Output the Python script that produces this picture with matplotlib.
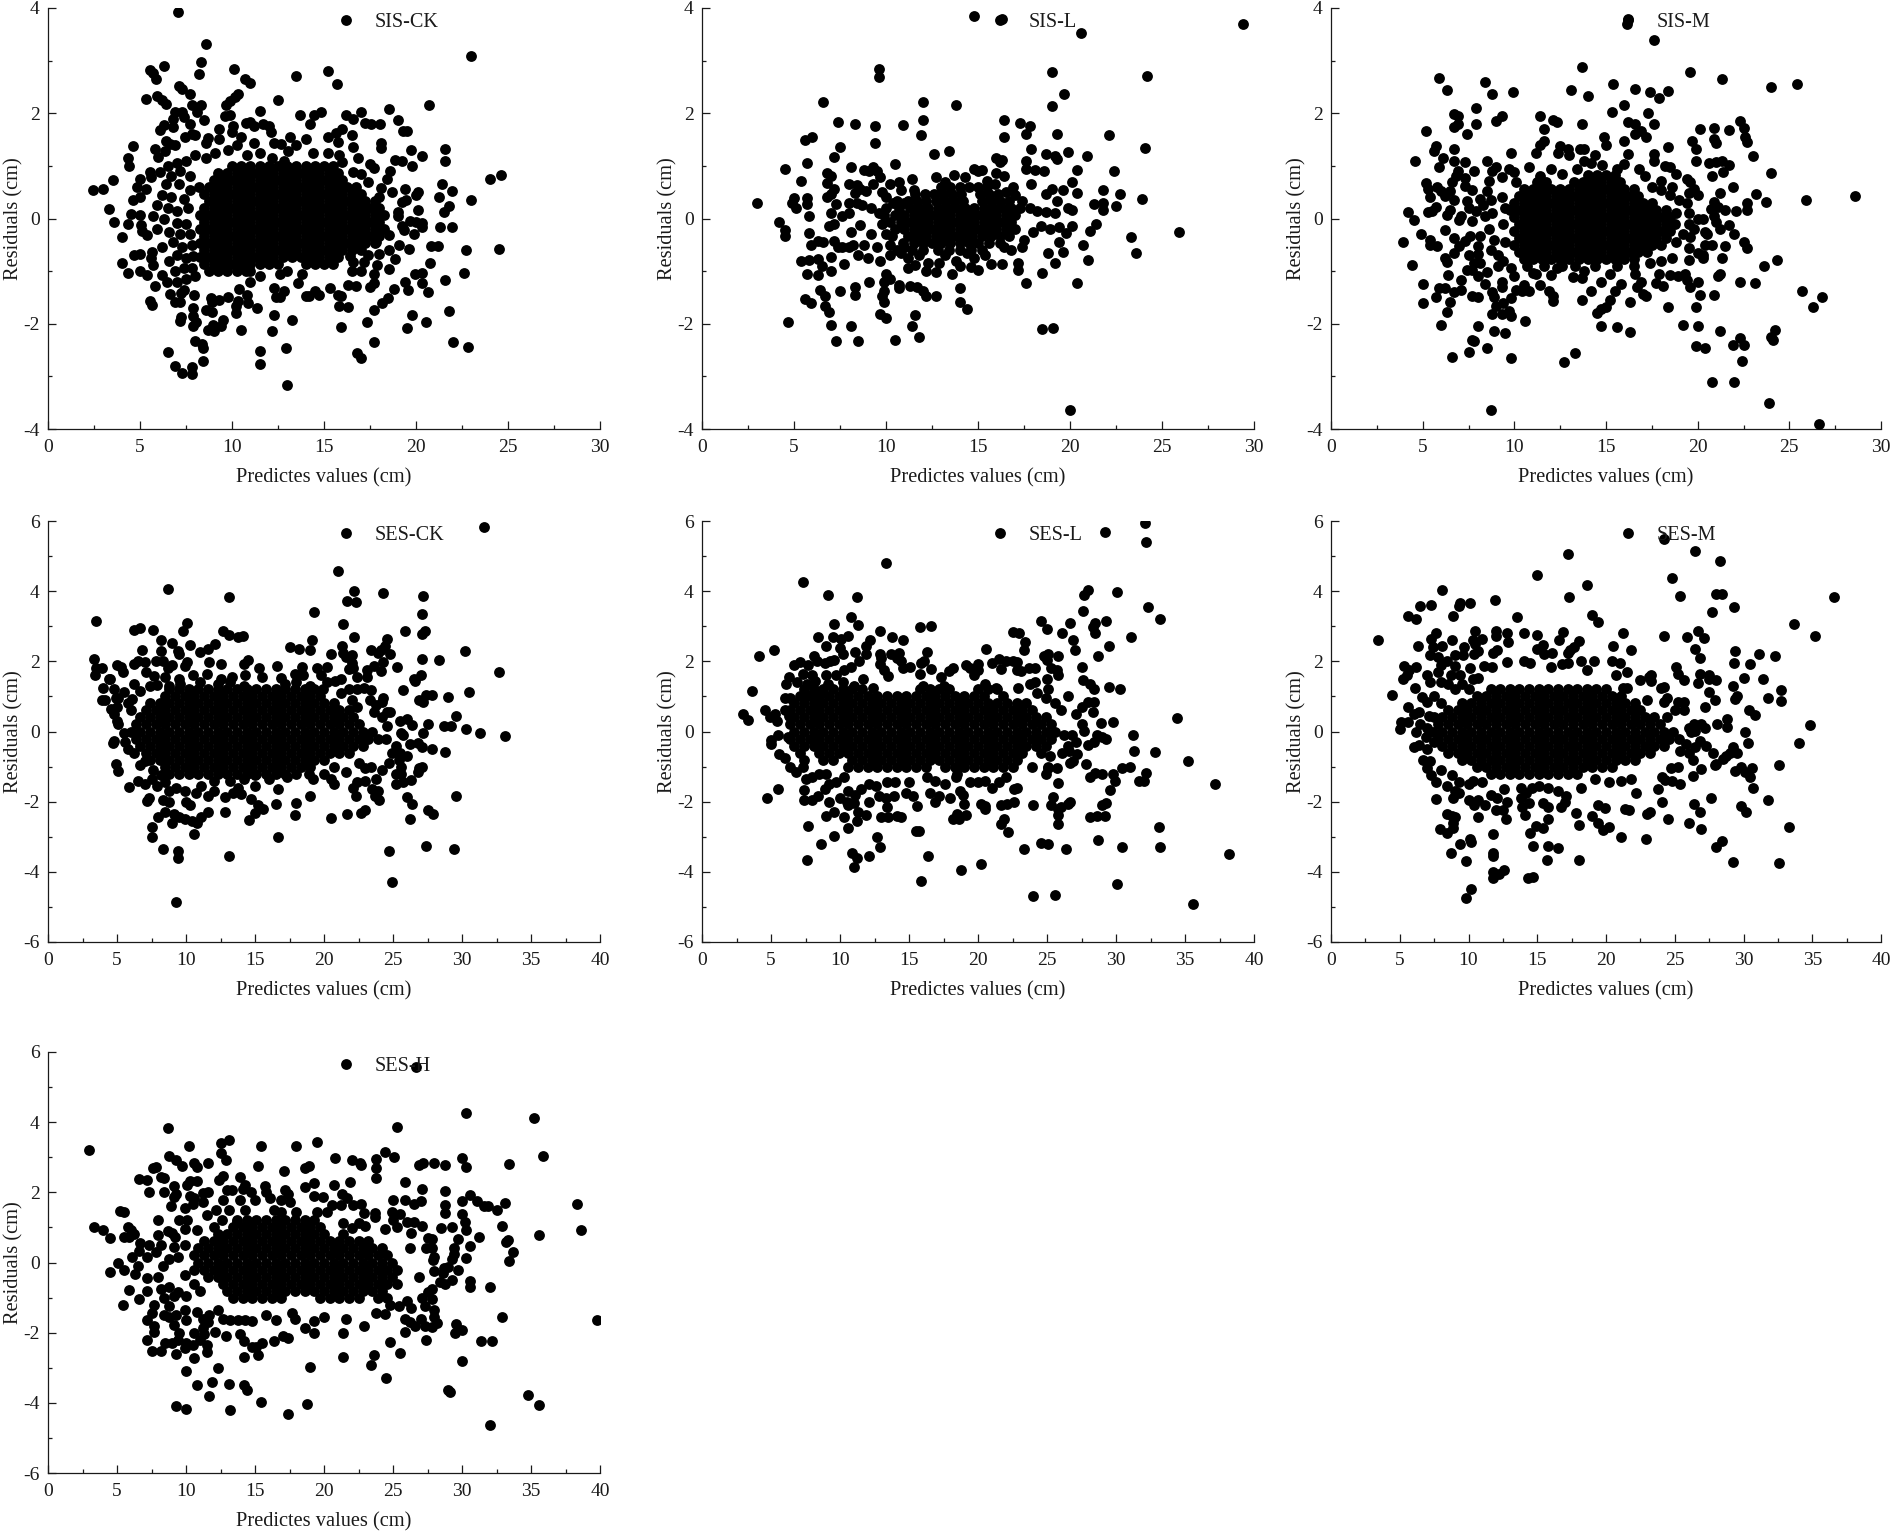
import numpy as np
import matplotlib
matplotlib.use('Agg')
import matplotlib.pyplot as plt
from matplotlib.ticker import MultipleLocator

plt.rcParams['font.family'] = ['Liberation Serif', 'DejaVu Serif']
plt.rcParams['axes.unicode_minus'] = False

# =============================================================================
# Values. *_pts are the dots that can be told apart,
# *_core_y / *_core_x are the solid middle, where single dots cannot be read
# so the rows are estimates (one list of x values per residual level)
# =============================================================================
panel_names = ['SIS-CK', 'SIS-L', 'SIS-M', 'SES-CK', 'SES-L', 'SES-M', 'SES-H']
x_label = 'Predictes values (cm)'
y_label = 'Residuals (cm)'

sis_ck_pts = [(7.07,3.92),(8.6,3.31),(23,3.09),(8.3,2.97),(6.3,2.9),(5.55,2.83),(5.7,2.76),(5.85,2.66),(8.2,2.75),(10.1,2.84),(10.7,2.66),(11,2.58),(13.5,2.71),(15.2,2.81),(15.7,2.55),(7.1,2.52),(7.3,2.46),(7.7,2.36),(5.3,2.28),(5.9,2.32),(6.2,2.25),(6.4,2.18),(7.8,2.16),(8.3,2.15),(8.1,2.02),(12.5,2.25),(10.3,2.36),(10.15,2.3),(9.9,2.23),(9.65,2.15),(11.5,2.05),(20.7,2.15),(18.55,2.09),(17,2.02),(14.85,2.02),(14.45,1.96),(13.7,1.97),(16.2,1.97),(16.6,1.89),(9.6,1.94),(9.9,1.97),(6.9,2.03),(7.3,2.03),(6.8,1.89),(7.4,1.92),(7.7,1.8),(6.8,1.73),(8.5,1.87),(6.3,1.78),(6.1,1.68),(9.3,1.71),(10.05,1.75),(10,1.65),(10.75,1.82),(11,1.83),(11.2,1.75),(11.7,1.79),(12,1.75),(12.1,1.64),(14.25,1.8),(16,1.71),(17.25,1.82),(17.55,1.8),(18.05,1.8),(19,1.87),(19.3,1.66),(19.5,1.67),(16.5,1.59),(15.2,1.55),(15.65,1.62),(15.75,1.46),(13.15,1.54),(14,1.52),(13.5,1.4),(10.5,1.54),(10.25,1.4),(9.3,1.51),(8.7,1.53),(8.6,1.44),(7.45,1.55),(7.8,1.6),(8,1.58),(6.4,1.47),(6.65,1.42),(6.9,1.39),(4.6,1.38),(5.8,1.32),(4.35,1.15),(4.4,0.99),(6,1.17),(6.35,1.28),(11.2,1.43),(12.3,1.44),(12.65,1.41),(13.05,1.28),(16.6,1.36),(18.1,1.44),(18.1,1.34),(21.6,1.33),(21.6,1.1),(19.75,1.3),(20.3,1.18),(16.85,1.15),(18.85,1.11),(19.25,1.1),(19.8,1),(17.5,1.04),(17.7,0.96),(18.6,0.9),(18.4,0.75),(24,0.75),(24.6,0.82),(21.4,0.66),(19.4,0.56),(20.1,0.5),(20,0.44),(21.95,0.53),(21.25,0.41),(23,0.36),(21.8,0.23),(21.5,0.13),(20.1,0.16),(20.35,-0.09),(20.3,-0.17),(21.3,-0.17),(21.95,-0.17),(20.8,-0.53),(21.2,-0.53),(22.7,-0.59),(24.5,-0.58),(19.6,-0.58),(19.1,-0.5),(19.9,-0.3),(20.75,-0.85),(22.6,-1.04),(21.55,-1.16),(20.3,-1.04),(19.95,-1.06),(19.4,-1.2),(20.35,-1.23),(19.55,-1.36),(20.65,-1.4),(18.8,-1.34),(18.5,-1.51),(18.15,-1.61),(17.7,-1.73),(21.8,-1.76),(19.8,-1.84),(17.35,-1.97),(20.55,-1.97),(19.5,-2.08),(17.7,-2.35),(22,-2.35),(22.8,-2.44),(16.8,-2.56),(17,-2.66),
    (2.45,0.55),(3,0.56),(3.55,0.73),(3.3,0.19),(3.6,-0.06),(4.35,-0.1),(4,-0.35),(4,-0.84),(4.35,-1.04),(4.7,-0.7),(5,-0.68),(5,-1),(4.5,0.09),(4.6,0.35),(5,0.4),(4.85,0.6),(5,0.76),(5.3,0.56),(5.55,0.88),(5.6,0.78),(6.1,0.88),(5,0.07),(5.05,-0.12),(5.1,-0.23),(5.4,-0.31),(5.4,-1.07),(5.8,-1.29),(5.55,-1.56),(5.65,-1.64),(5.65,-0.63),(5.6,-0.75),(5.7,-0.88),(6.2,-1.07),(6.45,-1.2),(6.65,-1.44),(6.9,-1.59),(7.15,-1.59),(7.25,-1.42),(7.4,-1.35),(7.95,-1.45),(7.9,-1.71),(7.25,-1.88),(7.15,-1.94),(7.9,-1.86),(8.05,-1.96),(7.9,-2.04),(6.5,-2.54),(6.9,-2.8),(7.3,-2.94),(7.8,-2.82),(7.8,-2.96),(8.45,-2.7),(8.45,-2.46),(8.35,-2.38),(8,-2.32),(8.9,-1.77),(8.6,-1.73),(8.85,-1.51),(8.9,-1.59),(9.3,-1.54),(9.8,-1.5),(9.5,-1.92),(9.4,-2.05),(8.95,-2.02),(8.7,-2.12),(9,-2.13),(10.5,-2.11),(10.3,-1.56),(10.2,-1.67),(10.2,-1.8),(10.8,-1.45),(10.85,-1.6),(11.35,-1.7),(10.4,-1.34),(11,-1.2),(11.5,-2.51),(11.5,-2.76),(12.3,-1.83),(12.2,-2.14),(12.95,-2.46),(13.25,-1.92),(13,-3.16),(12.4,-1.5),(12.6,-1.5),(12.3,-1.32),(12.8,-1.37),(14,-1.48),(14.2,-1.48),(14.5,-1.37),(14.75,-1.46),(13.6,-1.23),(15.35,-1.32),(15.75,-1.46),(15.9,-1.48),(15.8,-1.67),(16.3,-1.68),(15.9,-2.06),(16.3,-1.26),(16.75,-1.29),(17.5,-1.31),(17.7,-1.23),(17.7,-1.05),(17,-1),(16.5,-1),(16.6,-0.83),(17.9,-0.88),(18.55,-0.96),(18.85,-0.77),(18.55,-0.6),(18.55,-0.31),(19.25,-0.15),(19.35,-0.22),(19.65,-0.04),(20,-0.07),(19,0.13),(18.7,0.51),(18.1,0.58),(19.25,0.32),(19.45,0.35),(19,0.05),
    (6.5,1),(7,1.05),(7.5,1.1),(8,1.2),(8.6,1.15),(9.1,1.25),(9.8,1.3),(10.8,1.2),(11.5,1.25),(12.2,1.15),(12.8,1.1),(14.4,1.25),(15.2,1.25),(15.8,1.2),(16,1.08),(7.2,0.9),(7.7,0.8),(6.7,0.8),(6.4,0.65),(7.1,0.65),(7.7,0.55),(8.2,0.6),(6.2,0.45),(6.7,0.4),(7.4,0.38),(5.9,0.25),(6.5,0.2),(7,0.15),(7.6,0.2),(5.7,0.05),(6.3,0),(7,-0.08),(7.5,-0.1),(5.9,-0.2),(6.6,-0.25),(7.2,-0.3),(7.7,-0.3),(6.2,-0.55),(6.8,-0.45),(7.3,-0.55),(7.8,-0.5),(6.6,-0.8),(7,-0.7),(7.5,-0.75),(7.9,-0.72),(6.9,-1),(7.4,-0.95),(7.8,-0.95),(7,-1.2),(7.5,-1.15),(8,-1.1),(17,0.85),(17.4,0.7),(18,0.4),(17.8,-0.45),(17.4,-0.7),(18,-0.68),(17.2,-0.82),(16.4,-0.72),(16.6,0.88),(13.8,-1.05),(13,-1),(12.6,-1.05),(11.5,-1.1),(11,-1)]
sis_ck_core_y = [1.0,0.87,0.73,0.6,0.47,0.33,0.2,0.07,-0.07,-0.2,-0.33,-0.47,-0.6,-0.73,-0.87,-1.0]
sis_ck_core_x = [[10,10.5,11,11.5,12,12.5,13,13.5,14,14.5,15,15.5],
    [9.25,9.75,10.25,10.75,11.25,11.75,12.25,12.75,13.25,13.75,14.25,14.75,15.25,15.75],
    [9,9.5,10,10.5,11,11.5,12,12.5,13,13.5,14,14.5,15,15.5,16],
    [8.75,9.25,9.75,10.25,10.75,11.25,11.75,12.25,12.75,13.25,13.75,14.25,14.75,15.25,15.75,16.25,16.75],
    [8.5,9,9.5,10,10.5,11,11.5,12,12.5,13,13.5,14,14.5,15,15.5,16,16.5,17],
    [8.75,9.25,9.75,10.25,10.75,11.25,11.75,12.25,12.75,13.25,13.75,14.25,14.75,15.25,15.75,16.25,16.75,17.25,17.75],
    [8.5,9,9.5,10,10.5,11,11.5,12,12.5,13,13.5,14,14.5,15,15.5,16,16.5,17,17.5,18],
    [8.25,8.75,9.25,9.75,10.25,10.75,11.25,11.75,12.25,12.75,13.25,13.75,14.25,14.75,15.25,15.75,16.25,16.75,17.25,17.75,18.25],
    [8.5,9,9.5,10,10.5,11,11.5,12,12.5,13,13.5,14,14.5,15,15.5,16,16.5,17,17.5,18],
    [8.25,8.75,9.25,9.75,10.25,10.75,11.25,11.75,12.25,12.75,13.25,13.75,14.25,14.75,15.25,15.75,16.25,16.75,17.25,17.75,18.25],
    [8.5,9,9.5,10,10.5,11,11.5,12,12.5,13,13.5,14,14.5,15,15.5,16,16.5,17,17.5,18],
    [8.25,8.75,9.25,9.75,10.25,10.75,11.25,11.75,12.25,12.75,13.25,13.75,14.25,14.75,15.25,15.75,16.25,16.75,17.25,17.75],
    [8.5,9,9.5,10,10.5,11,11.5,12,12.5,13,13.5,14,14.5,15,15.5,16,16.5,17],
    [8.25,8.75,9.25,9.75,10.25,10.75,11.25,11.75,12.25,12.75,13.25,13.75,14.25,14.75,15.25,15.75],
    [8.5,9,9.5,10,10.5,11,11.5,12,12.5,14,14.5,15,15.5],
    [8.75,9.25,9.75,10.25,10.75]]

sis_l_pts = [(14.8,3.84),(16.3,3.8),(29.4,3.7),(20.6,3.53),(9.6,2.85),(9.6,2.69),(19,2.78),(24.2,2.71),(19.7,2.37),(6.6,2.22),(12,2.22),(13.8,2.15),(19,2.13),(16.4,1.88),(12,1.87),(7.4,1.83),(8.3,1.8),(10.9,1.77),(9.4,1.75),(17.3,1.82),(17.8,1.76),(17.6,1.6),(19.3,1.6),(11.9,1.59),(16.4,1.55),(22.1,1.58),(5.6,1.49),(6,1.54),(9.4,1.43),(7.5,1.36),(17.9,1.33),(24.1,1.34),(13.4,1.28),(12.6,1.22),(7.2,1.17),(19.9,1.26),(18.7,1.23),(19.2,1.19),(19.3,1.13),(20.9,1.18),(16,1.15),(16.3,1.12),(16.2,1.08),(17.6,1.09),(5.7,1.06),(10.5,1.04),(8.1,0.98),(14.8,0.95),(15.2,0.93),(15,0.9),(17.6,0.94),(18.1,0.93),(18.6,0.9),(20.4,0.93),(22.4,0.9),(4.5,0.95),(6.8,0.87),(7,0.8),(8.8,0.93),(9.1,0.9),(9.3,0.98),(9.5,0.9),(9.7,0.79),(12.7,0.79),(16,0.87),(16.4,0.81),(5.4,0.72),(6.8,0.67),(9.3,0.65),(8,0.65),(8.4,0.64),(8.6,0.57),(7.2,0.57),(7,0.47),(6.8,0.41),(17.9,0.66),(20.1,0.69),(19,0.57),(19.6,0.54),(18.7,0.47),(20.4,0.48),(21.8,0.54),(22.7,0.47),(23.9,0.38),(5,0.39),(5.7,0.39),(3,0.3),(4.9,0.3),(5.1,0.2),(5.7,0.27),(5.8,0.04),(4.2,-0.06),(4.5,-0.22),(4.5,-0.34),(5.8,-0.27),(5.9,-0.5),(6.3,-0.43),(6.6,-0.44),(7.2,-0.43),(21.3,0.28),(21.8,0.3),(21.8,0.16),(22.5,0.24),(19.3,0.33),(19.9,0.2),(20.1,0.16),(19.2,0.1),(19.4,-0.17),(20.1,-0.14),(19.8,-0.28),(19.4,-0.44),(21.4,-0.1),(21.1,-0.23),(20.7,-0.5),(23.3,-0.36),(23.6,-0.65),(25.9,-0.26),(21,-0.78),(19.6,-0.64),(19.2,-0.84),(18.8,-0.65),(18.5,-1.03),(20.4,-1.22),(17.6,-1.22),(17.2,-0.98),(17.2,-0.85),(16.3,-0.87),(15.7,-0.87),(15,-0.98),(14.6,-0.93),(14,-0.9),(13.6,-1.06),(12.7,-1.02),(12.9,-0.85),(12.3,-0.85),(12.2,-1),(11.2,-0.95),(11.6,-0.88),(5.4,-0.8),(5.8,-0.78),(6.3,-0.77),(6.5,-0.9),(7,-0.73),(7,-1),(7.7,-0.86),(5.7,-1.05),(6.3,-1.07),(6.4,-1.35),(6.7,-1.47),(7.5,-1.37),(5.6,-1.53),(5.9,-1.6),(6.7,-1.67),(6.9,-1.77),(4.7,-1.96),(7,-2.03),(8.1,-2.05),(7.3,-2.32),(8.5,-2.32),(10.5,-2.31),(11.8,-2.25),(11.4,-2.04),(11.6,-1.83),(9.7,-1.82),(10,-1.9),(14.4,-1.72),(14,-1.58),(10,-1.06),(10.2,-1.15),(9.9,-1.2),(9.1,-1.2),(8.3,-1.3),(8.3,-1.45),(9.9,-1.37),(9.8,-1.47),(9.9,-1.58),(10.7,-1.27),(10.7,-1.32),(11.3,-1.28),(11.7,-1.3),(12,-1.37),(12.2,-1.48),(12.7,-1.47),(14,-1.32),(18.5,-2.1),(19.1,-2.08),(20,-3.63),
    (8,0.3),(8.4,0.3),(7.3,0.27),(7,0.1),(7.6,0.05),(7.2,-0.1),(6.9,-0.15),(8,0.1),(8.3,0.48),(8.9,0.52),(8.7,0.25),(9.2,0.2),(8.1,-0.25),(8.6,-0.13),(8.2,-0.5),(8,-0.55),(8.5,-0.7),(9,-0.75),(8.8,-0.5),(7.6,-0.55),(7.4,-0.55),(9.2,-0.3),(9.5,-0.55),(9.7,-0.8),(10.2,-0.7),(10.8,-0.65),(9.8,0.5),(10,0.4),(10.4,0.3),(10.2,0.65),(10.7,0.7),(10.8,0.55),(11.4,0.75),(11.5,0.55),(11,0.3),(9.6,0.1),(9.8,-0.1),(10,-0.3),(10.2,-0.5),(18.2,0.15),(18.7,0.12),(18.9,-0.2),(18,-0.25),(18.4,-0.15),(17.5,-0.4),(17.4,-0.55),(16.8,-0.6),(16.4,-0.55),(15.4,-0.7),(14.8,-0.75),(14.4,-0.65),(13.8,-0.8),(13.2,-0.7),(11.8,-0.7),(11.2,-0.75),(11,-0.55),(16.9,0.6),(17,0.45),(16.5,0.5),(15.9,0.65),(15.5,0.72),(14.3,0.78),(13.7,0.82),(13.2,0.7)]
sis_l_core_y = [0.6,0.47,0.33,0.2,0.07,-0.07,-0.2,-0.33,-0.47,-0.6]
sis_l_core_x = [[13,13.5,14,14.5,15,15.5],
    [11.6,12.1,12.6,13.1,13.6,14.1,15.1,15.6,16.1],
    [10.6,11.2,11.7,12.2,12.7,13.2,13.7,14.2,15.2,15.7,16.2,16.7,17.4],
    [10,10.7,11.3,11.8,12.3,12.8,13.3,13.8,14.3,14.8,15.3,15.8,16.3,16.8,17.3,17.8],
    [9.9,10.5,11,11.5,12,12.5,13,13.5,14,14.5,15,15.5,16,16.5,17],
    [10.2,10.8,11.3,11.8,12.3,12.8,13.3,13.8,14.3,14.8,15.3,15.8,16.3,16.8],
    [10.5,11,11.5,12,12.5,13,13.5,14,14.5,15,15.5,16,16.5,17],
    [10.3,11.2,11.7,12.2,12.7,13.2,13.7,14.2,14.7,15.2,15.7,16.2,16.7],
    [10.9,11.5,12,12.5,13,13.5,14,14.5,15,15.6,16.2],
    [10.6,11.4,12,12.8,13.4,14,14.6,15.2]]

sis_m_pts = [(16.2,3.8),(16.15,3.7),(17.6,3.39),(13.7,2.87),(19.6,2.79),(5.9,2.67),(21.3,2.66),(8.4,2.59),(25.4,2.56),(15.4,2.55),(6.3,2.45),(16.6,2.47),(24,2.49),(9.9,2.4),(13.1,2.45),(17.4,2.41),(8.8,2.37),(18.4,2.42),(14,2.32),(17.9,2.29),(16,2.16),(7.9,2.1),(15.3,2.02),(17.3,2),(6.7,1.98),(6.95,1.95),(11.4,1.95),(9.3,1.95),(9,1.85),(12.1,1.88),(12.3,1.83),(16.2,1.83),(16.6,1.79),(17.6,1.8),(6.9,1.8),(7.9,1.8),(6.7,1.73),(13.7,1.79),(22.3,1.85),(5.2,1.67),(7.4,1.6),(11.6,1.7),(16.6,1.6),(16.9,1.67),(17.2,1.55),(20.1,1.7),(20.9,1.72),(21.7,1.68),(22.5,1.72),(22.6,1.55),(14.9,1.55),(20.9,1.52),(11.6,1.47),(11.4,1.4),(16,1.48),(19.7,1.47),(21,1.44),(22.7,1.45),(5.7,1.37),(5.6,1.28),(15,1.39),(18.4,1.36),(19.9,1.33),(6.7,1.33),(11.2,1.24),(9.8,1.24),(12.4,1.25),(12.5,1.38),(12.9,1.33),(13.6,1.32),(13.8,1.32),(16.2,1.23),(17.6,1.22),(23,1.18),(6.1,1.15),(4.6,1.1),(6.7,1.1),(7.3,1.07),(8.5,1.1),(13,1.2),(13.8,1.1),(14.4,1.2),(17.6,1.1),(19.9,1.1),(20.6,1.05),(21,1.08),(21.3,1.1),(21.7,1.02),(5.9,0.98),(9,0.97),(9.7,0.95),(10.8,0.98),(12,0.95),(14.2,1.05),(16,1.03),(18.2,1),(18.5,0.98),(21.4,0.88),(24,0.86),(7.8,0.91),(6.9,0.9),(8.8,0.9),(10,0.88),(18.8,0.85),(20.8,0.8),(6.8,0.8),(6.6,0.7),(7.3,0.77),(8.6,0.72),(9.3,0.78),(10.1,0.7),(18,0.72),(19.4,0.75),(19.6,0.7),(5.2,0.67),(5.3,0.57),(5.8,0.6),(6,0.52),(6.5,0.52),(7.3,0.62),(7.7,0.55),(8.5,0.52),(21.9,0.6),(18.6,0.6),(19.8,0.57),(19.5,0.48),(20,0.45),(21.2,0.49),(23.2,0.47),(5.4,0.4),(6.2,0.43),(6.7,0.36),(7.4,0.33),(8.1,0.38),(8.7,0.35),(20.9,0.32),(22.7,0.3),(23.7,0.32),(25.9,0.36),(28.6,0.43),(4.2,0.12),(5.3,0.13),(5.7,0.22),(5.5,0.15),(6.5,0.17),(6.3,0.07),(7.5,0.2),(7.1,0.05),(7.9,0.15),(8.4,0.05),(20.7,0.18),(21.1,0.22),(21.5,0.17),(22.1,0.15),(22.7,0.17),(20.9,0.05),(20.3,0),(20,0),(4.5,-0.03),(7,-0.03),(7.7,-0.05),(21,-0.06),(6.2,-0.21),(4.9,-0.3),(6.7,-0.38),(5.4,-0.4),(5.4,-0.5),(5.8,-0.53),(3.9,-0.45),(7,-0.53),(7.3,-0.42),(7.6,-0.33),(8.1,-0.33),(8,-0.53),(6.7,-0.66),(8,-0.68),(21.2,-0.2),(21.7,-0.13),(20.4,-0.25),(20.5,-0.3),(22,-0.3),(22.5,-0.45),(22.7,-0.57),(21.5,-0.53),(20.8,-0.5),(20.4,-0.51),(19.6,-0.35),(19.8,-0.2),(19.5,-0.57),(20,-0.66),(20.3,-0.7),(20.3,-0.76),(19.5,-0.78),(21.3,-0.75),(23.6,-0.9),(24.3,-0.78),(4.4,-0.88),(6.2,-0.75),(6.3,-0.83),(7.5,-0.7),(7.8,-0.85),(8.1,-0.85),(6.4,-1.08),(7.4,-0.97),(7.7,-0.97),(8.5,-1.02),(9.1,-0.9),(9.8,-0.95),(10,-1.1),(11.2,-1.05),(11,-1.03),(12,-1.07),(12.3,-0.95),(13.2,-1.12),(13.7,-1.13),(13.8,-1),(15.2,-1.05),(14.7,-1.2),(16.6,-1.05),(17.9,-1.05),(18.5,-1.08),(18.9,-1.1),(19.3,-1.05),(19.4,-1.17),(19.6,-1.3),(20,-1.2),(21.2,-1.05),(21.1,-1.1),(22.3,-1.2),(23.1,-1.23),(5,-1.25),(5.9,-1.32),(6.2,-1.32),(7.1,-1.16),(7.1,-1.36),(8.4,-1.24),(8,-1.1),(9.3,-1.2),(9.3,-1.3),(10.5,-1.27),(11.4,-1.27),(15.8,-1.25),(16.9,-1.2),(17.7,-1.23),(18.1,-1.28),(16.7,-1.3),(5.7,-1.49),(6.7,-1.4),(7.7,-1.47),(8,-1.5),(8.8,-1.4),(8.9,-1.5),(10.1,-1.35),(10.4,-1.38),(10.8,-1.38),(11.9,-1.37),(12.1,-1.48),(12.1,-1.57),(14.2,-1.38),(15.5,-1.37),(17,-1.43),(17.2,-1.48),(20.1,-1.46),(20.9,-1.45),(25.7,-1.38),(26.8,-1.49),(5,-1.6),(6.5,-1.59),(9.4,-1.6),(9.8,-1.52),(13.7,-1.55),(15.2,-1.54),(16.3,-1.58),(9,-1.66),(18.4,-1.69),(19.9,-1.68),(26.3,-1.68),(6.3,-1.78),(8.8,-1.82),(9.7,-1.75),(9.3,-1.82),(9.8,-1.85),(14.5,-1.8),(14.7,-1.72),(15,-1.68),(10.6,-1.95),(6,-2.03),(8,-2.05),(14.7,-2.05),(15.6,-2.06),(16.3,-2.15),(19.2,-2.02),(20,-2.05),(21.2,-2.13),(24.2,-2.12),(8.9,-2.14),(9.5,-2.17),(7.7,-2.3),(7.8,-2.33),(24,-2.26),(24.1,-2.3),(22.3,-2.28),(21.9,-2.4),(22.5,-2.4),(8.5,-2.46),(19.9,-2.43),(20.4,-2.47),(7.5,-2.54),(6.6,-2.63),(13.3,-2.56),(9.8,-2.65),(12.7,-2.73),(22.4,-2.71),(20.8,-3.1),(22,-3.1),(23.9,-3.5),(8.7,-3.64),(26.6,-3.9),
    (8.3,0.25),(8.8,0.1),(8.6,-0.2),(8.9,-0.4),(8.7,-0.6),(9.1,-0.7),(9.3,0.4),(9.5,0.2),(9.4,-0.1),(9.5,-0.45),(9.4,-0.8),(18.5,0.45),(19,0.35),(19.4,0.3),(18.8,0.1),(19.5,0.1),(19.5,-0.1),(19.2,-0.3),(18.8,-0.45),(18.6,-0.75),(18,-0.8),(17.4,-0.85),(16.5,-0.9),(15.6,-0.9),(14.4,-0.9),(13.3,-0.9),(12.6,-0.9),(11.6,-0.9),(10.7,-0.9),(16.8,0.95),(15.6,0.95),(14.8,1.02),(13.4,0.95),(12.6,0.85),(11.4,0.8),(17.1,0.8),(17.5,0.6),(18,0.55)]
sis_m_core_y = [0.83,0.7,0.57,0.43,0.3,0.17,0.03,-0.1,-0.23,-0.37,-0.5,-0.63,-0.77]
sis_m_core_x = [[14,14.5,15,15.5],
    [11.25,11.75,13.25,13.75,14.25,14.75,15.25,15.75],
    [10.5,11,11.5,12,12.5,13,13.5,14,14.5,15,15.5,16,16.5],
    [10.25,10.75,11.25,11.75,12.25,12.75,13.25,13.75,14.25,14.75,15.25,15.75,16.25,16.75],
    [10,10.5,11,11.5,12,12.5,13,13.5,14,14.5,15,15.5,16,16.5,17,17.5],
    [9.75,10.25,10.75,11.25,11.75,12.25,12.75,13.25,13.75,14.25,14.75,15.25,15.75,16.25,16.75,17.25,17.75,18.25],
    [10,10.5,11,11.5,12,12.5,13,13.5,14,14.5,15,15.5,16,16.5,17,17.5,18,18.5],
    [10.25,10.75,11.25,11.75,12.25,12.75,13.25,13.75,14.25,14.75,15.25,15.75,16.25,16.75,17.25,17.75,18.25,18.75],
    [10,10.5,11,11.5,12,12.5,13,13.5,14,14.5,15,15.5,16,16.5,17,17.5,18,18.5],
    [10.25,10.75,11.25,11.75,12.25,12.75,13.25,13.75,14.25,14.75,15.25,15.75,16.25,16.75,17.25,17.75,18.25],
    [10,10.5,11,11.5,12,12.5,13,13.5,14,14.5,15,15.5,16,16.5,17,17.5,18],
    [10.25,10.75,11.25,11.75,12.25,12.75,13.25,13.75,14.25,14.75,15.25,15.75,16.25,16.75,17.25],
    [10.5,11,11.5,12,12.5,13,13.5,14,14.5,15,15.5,16,16.5]]

ses_ck_pts = [(31.6,5.83),(21,4.57),(8.7,4.05),(22.2,4),(24.3,3.94),(13.1,3.82),(27.2,3.85),(21.7,3.71),(22.3,3.7),(19.3,3.42),(27.1,3.34),(3.5,3.16),(10.1,3.08),(21.4,3.05),(6.2,2.9),(6.7,2.96),(7.6,2.88),(9.8,2.86),(12.7,2.86),(13.1,2.75),(13.8,2.7),(14.1,2.72),(25.9,2.86),(27.3,2.86),(27.1,2.78),(8.2,2.62),(19.1,2.62),(22.2,2.7),(24.6,2.65),(9,2.52),(10.3,2.47),(12.1,2.48),(21.3,2.43),(24.4,2.45),(6.8,2.33),(8.2,2.3),(9.4,2.3),(9.5,2.22),(11,2.28),(11.6,2.35),(17.5,2.42),(18.2,2.35),(19,2.33),(21.4,2.25),(23.4,2.33),(23.9,2.25),(24.1,2.33),(24.8,2.2),(30.2,2.29),(20.5,2.2),(22,2.18),(21.6,2.12),(3.3,2.08),(6.5,2),(7,1.98),(7.8,2.02),(8.3,2),(14.5,2.03),(14.2,1.93),(11.7,1.98),(10.1,1.98),(12.5,1.92),(24.3,1.97),(27.1,2.07),(28.3,2.05),(22,1.96),(3.5,1.8),(3.9,1.8),(3.4,1.6),(5,1.9),(5.3,1.85),(6.2,1.93),(7.1,1.7),(8.7,1.8),(9,1.9),(9.9,1.87),(16.6,1.87),(15.3,1.82),(18.4,1.83),(20.2,1.85),(19.5,1.8),(21.8,1.78),(22.1,1.8),(23.1,1.75),(23.6,1.86),(24.1,1.72),(25.3,1.83),(5.4,1.7),(7.7,1.58),(8.5,1.55),(4.4,1.5),(4.5,1.5),(6.2,1.35),(5.5,1.13),(4,1.25),(4.8,1.22),(6.7,1.15),(7.4,1.3),(7.9,1.33),(16.9,1.52),(20.2,1.4),(21.2,1.5),(22.4,1.55),(23.1,1.55),(27,1.6),(26.5,1.5),(26.6,1.43),(32.7,1.7),(25.7,1.18),(30.5,1.14),(23.4,1.18),(22.9,1.25),(3.9,0.9),(4.1,0.9),(4.9,0.95),(5.1,0.95),(5.8,0.82),(6.1,0.92),(27.4,1.05),(27.8,1.03),(24.3,0.95),(29,0.97),(26.9,0.9),(27.2,0.84),(4.6,0.65),(5,0.7),(4.8,0.5),(6,0.6),(24.8,0.55),(24.6,0.55),(29.6,0.44),(5,0.3),(5.1,0.2),(26,0.35),(25.5,0.3),(26.4,0.18),(27.5,0.22),(28.7,0.15),(29.2,0.15),(30.3,0.07),(5.5,-0.05),(25.6,-0.05),(25.7,-0.1),(27.2,-0.05),(31.3,-0.03),(33.1,-0.13),(4.7,-0.33),(4.8,-0.28),(5.6,-0.3),(5.8,-0.5),(6.2,-0.6),(26.2,-0.35),(26.8,-0.33),(27.1,-0.45),(27.8,-0.5),(28.8,-0.58),(25.2,-0.4),(25.5,-0.6),(26,-0.7),(25.4,-0.8),(6.7,-0.95),(4.9,-0.92),(5.1,-1.13),(7,-0.85),(25.6,-1),(27.1,-1),(26.9,-1.05),(26.8,-1.15),(25.6,-1.2),(25.2,-1.2),(26.3,-1.37),(6.5,-1.4),(7,-1.5),(7.5,-1.35),(7.9,-1.55),(5.9,-1.57),(8.5,-1.45),(25.2,-1.5),(25.7,-1.45),(23,-1.4),(22.4,-1.45),(22.1,-1.6),(23.5,-1.65),(23.9,-1.7),(20.5,-1.35),(19.2,-1.35),(20.7,-1.5),(16.7,-1.65),(15,-1.55),(13.8,-1.6),(13.4,-1.75),(14,-1.78),(12.8,-1.88),(12,-1.7),(11.6,-1.85),(7.3,-1.9),(7.2,-1.97),(8.3,-1.95),(8.8,-2),(10,-2),(10.3,-2.1),(14.7,-1.93),(15.2,-2.1),(15.6,-2.2),(16.5,-2.08),(18,-2.05),(19,-1.85),(22.3,-1.85),(23.7,-1.85),(24,-1.95),(26,-1.88),(26.4,-2.07),(29.6,-1.85),(8.5,-2.3),(8,-2.45),(9.1,-2.35),(9.5,-2.45),(9.9,-2.5),(9,-2.6),(10.4,-2.55),(10.8,-2.6),(11.1,-2.45),(11.6,-2.3),(12.8,-2.3),(15,-2.33),(14.6,-2.53),(17.9,-2.38),(20.5,-2.47),(21.7,-2.35),(22.7,-2.33),(23,-2.25),(26.2,-2.5),(27.5,-2.25),(27.9,-2.35),(7.5,-2.72),(7.5,-3.02),(10.6,-2.93),(16.7,-3),(8.3,-3.35),(9.4,-3.42),(9.4,-3.6),(13.1,-3.55),(24.7,-3.4),(27.4,-3.25),(29.4,-3.35),(24.9,-4.3),(9.3,-4.85),
    (9.5,1.5),(10.5,1.6),(11.5,1.65),(12.5,1.5),(13.3,1.55),(14.3,1.6),(15.5,1.55),(17.9,1.65),(18.5,1.6),(19.8,1.6),(20.8,1.45),(8.8,1.3),(9.6,1.35),(11,1.4),(12.3,1.35),(13.2,1.4),(14.2,1.3),(17.2,1.35),(18,1.4),(19,1.3),(19.9,1.2),(21.2,1.1),(21.8,1.2),(22.4,1.2),(22,0.9),(22.4,0.7),(23.3,0.9),(23.8,0.75),(24.2,0.85),(23.6,0.55),(24.2,0.4),(24.6,0.15),(24.5,-0.2),(24.9,-0.6),(24.7,-0.9),(24.2,-1.1),(23.8,-1.35),(23.4,-1),(23,-1.05),(22.5,-0.9),(21.6,-1.15),(20.7,-1),(20,-1.2),(18.9,-1.2),(18,-1.2),(17.3,-1.3),(16,-1.35),(15,-1.25),(14.2,-1.35),(13.2,-1.4),(12,-1.4),(11.1,-1.55),(10.7,-1.75),(9.9,-1.7),(9.3,-1.6),(8.8,-1.7),(8.2,-1.25),(7.6,-1.1)]
ses_ck_core_y = [1.2,1.0,0.8,0.6,0.4,0.2,0.0,-0.2,-0.4,-0.6,-0.8,-1.0,-1.2]
ses_ck_core_x = [[8.8,9.5,10.2,10.9,11.6,12.3,13,13.7,14.4,15.1,15.8,16.5,17.2,17.9,18.6,19.3],
    [8.5,9.2,9.9,10.6,11.3,12,12.7,13.4,14.1,14.8,15.5,16.2,16.9,17.6,18.3,19,19.7],
    [7.4,8.1,8.8,9.5,10.2,10.9,11.6,12.3,13,13.7,14.4,15.1,15.8,16.5,17.2,17.9,18.6,19.3,20,20.7],
    [7.1,7.8,8.5,9.2,9.9,10.6,11.3,12,12.7,13.4,14.1,14.8,15.5,16.2,16.9,17.6,18.3,19,19.7,20.4,21.1,21.8],
    [6.7,7.4,8.1,8.8,9.5,10.2,10.9,11.6,12.3,13,13.7,14.4,15.1,15.8,16.5,17.2,17.9,18.6,19.3,20,20.7,21.4,22.1],
    [6.4,7.1,7.8,8.5,9.2,9.9,10.6,11.3,12,12.7,13.4,14.1,14.8,15.5,16.2,16.9,17.6,18.3,19,19.7,20.4,21.1,21.8,22.5],
    [6,6.7,7.4,8.1,8.8,9.5,10.2,10.9,11.6,12.3,13,13.7,14.4,15.1,15.8,16.5,17.2,17.9,18.6,19.3,20,20.7,21.4,22.1,22.8,23.5],
    [6.4,7.1,7.8,8.5,9.2,9.9,10.6,11.3,12,12.7,13.4,14.1,14.8,15.5,16.2,16.9,17.6,18.3,19,19.7,20.4,21.1,21.8,22.5,23.2,23.9],
    [6.7,7.4,8.1,8.8,9.5,10.2,10.9,11.6,12.3,13,13.7,14.4,15.1,15.8,16.5,17.2,17.9,18.6,19.3,20,20.7,21.4,22.1,22.8],
    [7.1,7.8,8.5,9.2,9.9,10.6,11.3,12,12.7,13.4,14.1,14.8,15.5,16.2,16.9,17.6,18.3,19,19.7,20.4,21.1,21.8],
    [7.4,8.1,8.8,9.5,10.2,10.9,11.6,12.3,13,13.7,14.4,15.1,15.8,16.5,17.2,17.9,18.6,19.3,20],
    [8.5,9.2,9.9,10.6,11.3,12,12.7,13.4,14.1,14.8,15.5,16.2,16.9,17.6,18.3,19],
    [8.8,9.5,10.2,10.9,11.6,12.3,13,13.7,14.4,15.1,15.8,16.5,17.2]]

ses_l_pts = [(32.1,5.95),(32.2,5.4),(29.2,5.68),(13.3,4.8),(7.3,4.25),(9.1,3.9),(11.2,3.82),(28,4.02),(27.7,3.9),(30.1,3.98),(32.3,3.55),(33.2,3.22),(27.6,3.43),(10.8,3.25),(24.6,3.15),(29.3,3.15),(9.6,3.05),(11.3,3.03),(15.8,2.97),(16.6,3),(26.7,3.1),(28.5,3.1),(28.3,2.98),(25,2.93),(12.9,2.86),(22.5,2.85),(23,2.8),(26.1,2.82),(28.5,2.82),(8.4,2.7),(9.5,2.7),(10.1,2.65),(10.6,2.72),(13.8,2.7),(14.6,2.62),(12.2,2.6),(31.1,2.7),(26.9,2.6),(23.4,2.55),(9,2.45),(11.9,2.45),(29.5,2.44),(10,2.38),(11.1,2.28),(16.3,2.27),(14.3,2.25),(20.6,2.35),(23.3,2.32),(27,2.32),(4.1,2.15),(5.2,2.32),(8.1,2.15),(10.2,2.2),(11.9,2.2),(12.9,2.2),(13,2.1),(13.7,2.2),(14.1,2.1),(24.8,2.15),(25.1,2.2),(25.8,2.15),(28.7,2.15),(7.1,1.98),(6.7,1.9),(7.7,1.9),(8.3,2),(8.9,1.95),(9.3,2),(9.6,2.05),(11.4,2),(12.9,1.92),(14.4,2),(16.1,2),(15.9,1.95),(21.5,2.08),(22,2),(22.5,2),(22.8,1.98),(25,2.05),(20,1.92),(19.1,1.9),(21,1.95),(27.5,1.83),(15.1,1.85),(14.6,1.8),(13.2,1.75),(16.6,1.78),(18.2,1.8),(17.9,1.72),(21.7,1.78),(22.8,1.75),(23.1,1.72),(23.7,1.8),(24.1,1.82),(25.3,1.8),(25.7,1.75),(19.4,1.8),(20,1.75),(6.3,1.55),(7.3,1.65),(8,1.6),(9,1.6),(9.7,1.6),(10.3,1.75),(10.8,1.85),(11.7,1.5),(13.5,1.58),(15.8,1.65),(17.3,1.55),(19.7,1.6),(25.8,1.6),(25,1.5),(27.6,1.48),(6.1,1.35),(6.9,1.4),(7.6,1.35),(8.2,1.45),(9.1,1.35),(10.2,1.4),(11,1.3),(12.4,1.25),(16,1.3),(17.5,1.3),(20.5,1.35),(21.3,1.25),(22.9,1.25),(23.8,1.35),(24.1,1.4),(28.1,1.35),(28.4,1.2),(29.5,1.28),(30.3,1.22),(6,0.95),(6.4,0.95),(7.6,1.05),(8.8,1.1),(24.3,1.1),(25.1,1.2),(26.5,1),(5.4,0.3),(4.6,0.6),(4.9,0.4),(5.3,0.5),(3,0.5),(3.3,0.32),(3.6,1.15),(6,0.6),(6.3,0.45),(28,0.85),(28.4,0.85),(27.5,0.7),(27.1,0.5),(28.3,0.55),(26,0.6),(25.6,0.8),(24.9,0.95),(34.4,0.38),(27.5,0.2),(27.7,0.02),(28.9,0.25),(29.8,0.27),(28.6,-0.1),(29,-0.15),(29.3,-0.2),(26.2,-0.1),(26.8,-0.1),(27.1,-0.3),(26.5,-0.4),(28,-0.38),(28.4,-0.3),(26.1,-0.6),(26.6,-0.55),(27.2,-0.65),(31.2,-0.1),(31.3,-0.57),(32.8,-0.58),(26.7,-0.9),(26.9,-0.85),(27.8,-0.92),(35.2,-0.83),(25.2,-0.7),(25.7,-1.03),(25.1,-1.05),(24.9,-1.2),(25.1,-1),(28.1,-1.3),(28.5,-1.18),(29,-1.2),(29.8,-1.2),(30.4,-1.05),(31,-1),(32.2,-1.18),(31.7,-1.4),(32,-1.4),(29.9,-1.42),(29.6,-1.68),(37.2,-1.5),(25.8,-1.48),(25.4,-1.87),(23.9,-1),(5,-0.25),(5,-0.35),(5.6,-0.65),(6,-0.75),(5.5,-0.1),(6.2,-0.15),(6.4,-1),(6.8,-1.15),(7.3,-1),(7.5,-1.35),(8,-1.3),(8.5,-1.2),(9,-1.2),(4.7,-1.9),(5.5,-1.65),(7.4,-1.67),(7.4,-1.95),(8,-1.95),(8.4,-1.85),(8.9,-1.65),(9.2,-1.5),(9.7,-1.45),(10.3,-1.3),(9.2,-2),(10,-1.9),(10.5,-2),(11,-2.05),(11.5,-1.65),(10.6,-1.7),(11.1,-1.8),(12.1,-1.5),(12.6,-1.55),(12.8,-1.85),(13.3,-1.9),(13.9,-1.85),(13.4,-1.45),(14,-1.45),(15,-1.45),(14.8,-1.75),(15.3,-1.85),(16.5,-1.75),(16.9,-2),(17.2,-1.85),(18,-1.9),(16.3,-1.3),(16.9,-1.4),(17.6,-1.5),(18.4,-1.3),(18.5,-1.2),(19.4,-1.45),(20,-1.45),(20.5,-1.4),(21,-1.6),(18.7,-1.7),(18.9,-1.8),(21.5,-1.45),(22,-1.3),(22.6,-1.65),(22.8,-1.6),(9,-2.4),(9.6,-2.3),(10.3,-2.45),(10.6,-2.1),(11.2,-2.55),(11.3,-2.3),(11.9,-2.38),(12.1,-2),(13,-2.45),(13.5,-2.45),(13.4,-2.15),(14.1,-2.42),(14.4,-2.45),(15.5,-2.85),(15.7,-2.83),(15.6,-2.12),(19,-2.08),(19.1,-2.37),(18.2,-2.5),(18.6,-2.5),(18.5,-2.35),(20.2,-2.08),(20.5,-2.12),(20.5,-2.2),(21.7,-2.1),(22.1,-2.08),(22.6,-2),(24,-2.1),(25.3,-2.1),(25.8,-2.2),(26,-2.15),(25.8,-2.37),(25.8,-2.63),(26.5,-2.08),(26.7,-2),(28.1,-2.45),(28.6,-2.42),(29,-2.1),(29.3,-2.03),(29.2,-2.4),(21.7,-2.65),(21.9,-2.5),(22.2,-2.87),(7.7,-2.68),(9.6,-2.97),(10.6,-2.75),(12.7,-3),(28.7,-3.08),(33.1,-2.72),(8.6,-3.2),(12.9,-3.28),(23.3,-3.35),(24.6,-3.18),(25.1,-3.22),(26.4,-3.35),(30.4,-3.3),(33.2,-3.28),(7.6,-3.65),(10.9,-3.45),(11.2,-3.6),(12.1,-3.55),(16.4,-3.55),(38.2,-3.48),(11,-3.87),(18.8,-3.95),(20.2,-3.78),(15.9,-4.27),(30.1,-4.35),(24,-4.7),(25.6,-4.67),(35.6,-4.93)]
ses_l_core_y = [1.2,1.0,0.8,0.6,0.4,0.2,0.0,-0.2,-0.4,-0.6,-0.8,-1.0]
ses_l_core_x = [[7.4,8.1,8.8,9.5,10.2,10.9,11.6,15.8,16.5,17.2,17.9,20,20.7,21.4],
    [7.1,7.8,8.5,9.2,9.9,10.6,11.3,12,12.7,13.4,14.1,14.8,15.5,16.2,16.9,17.6,18.3,19,19.7,20.4,21.8],
    [6.7,7.4,8.1,8.8,9.5,10.2,10.9,11.6,12.3,13,13.7,14.4,15.1,15.8,16.5,17.2,17.9,18.6,19.3,20,20.7,21.4,22.1,22.8,23.5],
    [6.4,7.1,7.8,8.5,9.2,9.9,10.6,11.3,12,12.7,13.4,14.1,14.8,15.5,16.2,16.9,17.6,18.3,19,19.7,20.4,21.1,21.8,22.5,23.2,23.9],
    [6.7,7.4,8.1,8.8,9.5,10.2,10.9,11.6,12.3,13,13.7,14.4,15.1,15.8,16.5,17.2,17.9,18.6,19.3,20,20.7,21.4,22.1,22.8,23.5,24.2,24.9],
    [6.4,7.1,7.8,8.5,9.2,9.9,10.6,11.3,12,12.7,13.4,14.1,14.8,15.5,16.2,16.9,17.6,18.3,19,19.7,20.4,21.1,21.8,22.5,23.2,23.9,24.6,25.3],
    [6.7,7.4,8.1,8.8,9.5,10.2,10.9,11.6,12.3,13,13.7,14.4,15.1,15.8,16.5,17.2,17.9,18.6,19.3,20,20.7,21.4,22.1,22.8,23.5,24.2,24.9,25.6],
    [6.4,7.1,7.8,8.5,9.2,9.9,10.6,11.3,12,12.7,13.4,14.1,14.8,15.5,16.2,16.9,17.6,18.3,19,19.7,20.4,21.1,21.8,22.5,23.2,23.9,24.6,25.3],
    [6.7,7.4,8.1,8.8,9.5,10.2,10.9,11.6,12.3,13,13.7,14.4,15.1,15.8,16.5,17.2,17.9,18.6,19.3,20,20.7,21.4,22.1,22.8,23.5,24.2,24.9],
    [7.1,8.5,9.2,9.9,10.6,11.3,12,12.7,13.4,14.1,14.8,15.5,16.2,16.9,17.6,18.3,19,19.7,20.4,21.1,21.8,22.5,23.2,24.6],
    [7.4,8.8,9.5,10.9,11.6,12.3,13,13.7,14.4,15.1,15.8,16.5,17.2,17.9,18.6,19.3,20,20.7,21.4,22.1,22.8],
    [10.6,11.3,12,12.7,13.4,14.1,14.8,15.5,16.2,17.6,18.3,19,19.7,20.4,21.1,21.8,22.5]]

ses_m_pts = [(24.2,5.5),(26.5,5.15),(17.2,5.07),(28.3,4.87),(15,4.47),(24.8,4.37),(18.6,4.18),(8.1,4.04),(25.4,3.87),(28,3.92),(28.4,3.92),(17.3,3.83),(36.6,3.82),(11.9,3.76),(6.5,3.58),(7.3,3.6),(9.3,3.57),(9.4,3.65),(10.1,3.65),(29.3,3.55),(27.7,3.4),(5.6,3.3),(6.2,3.2),(8.9,3.3),(13.5,3.27),(19,3.33),(19.4,3.13),(33.7,3.07),(7.6,2.8),(7.3,2.65),(8.8,2.6),(10.5,2.87),(12,2.87),(12,2.72),(12.8,2.8),(14,2.8),(15,2.75),(16.9,2.85),(21.2,2.82),(24.2,2.72),(26.7,2.87),(25.9,2.7),(27.1,2.66),(35.2,2.72),(3.4,2.6),(10.3,2.6),(11,2.65),(12.9,2.55),(16.6,2.6),(18,2.58),(6.3,2.43),(7.4,2.4),(8.1,2.43),(9.7,2.42),(10.5,2.5),(15.4,2.47),(20.5,2.43),(17.7,2.4),(7.2,2.17),(7.8,2.12),(8.4,2),(9,2.18),(9.6,2.18),(10.4,2.2),(10.7,2.3),(11.8,2.25),(12.1,2.33),(15,2.35),(16.1,2.23),(15.5,2.2),(17.2,2.25),(17.4,2.33),(21.8,2.33),(26.5,2.35),(29.4,2.3),(31.1,2.2),(32.3,2.15),(26.8,2.1),(20.4,2),(19.1,2),(18.2,2),(17.2,1.95),(16.8,1.92),(14.5,1.95),(14,2),(12.8,1.98),(21,1.95),(29.3,1.95),(30.5,1.93),(8,1.9),(9,1.87),(10.1,1.8),(11.1,1.87),(11.7,1.85),(16,1.85),(18.6,1.75),(25.1,1.85),(5.3,1.87),(5.7,1.75),(6.2,1.83),(7.8,1.7),(5.5,1.6),(5.2,1.5),(7,1.6),(8.7,1.6),(9.4,1.6),(10.3,1.5),(10.7,1.52),(21.5,1.7),(25.2,1.65),(26.8,1.65),(27.5,1.6),(27.5,1.5),(28,1.47),(30,1.52),(31.4,1.5),(20.7,1.6),(22.5,1.47),(23.1,1.55),(23.3,1.6),(23.3,1.45),(25.7,1.47),(7.2,1.4),(8,1.4),(8.5,1.35),(9.5,1.35),(6.1,1.25),(4.4,1.05),(6.6,0.97),(7.5,1),(7,0.85),(8,0.8),(9,1.2),(10,1.2),(21.2,1.25),(21.5,1.25),(24,1.25),(24.2,1.28),(26.7,1.37),(29.2,1.3),(27.5,1.13),(32.7,1.18),(31.8,0.96),(23,0.9),(24.2,0.85),(24.4,0.95),(25.2,0.85),(25.7,0.85),(29.5,1),(29.4,0.93),(27.9,0.9),(32.7,0.87),(5.6,0.7),(6.4,0.55),(6,0.5),(7.1,0.43),(7.5,0.4),(27.2,0.7),(25,0.6),(25.7,0.6),(30.4,0.6),(30.8,0.47),(24.4,0.4),(5.1,0.27),(5.6,0.28),(5,0.07),(6.5,0.2),(7,0.1),(6.2,0),(26,0.1),(26.4,0.2),(26.9,0.2),(27.2,0.1),(28.1,0.2),(28.8,0.35),(28.8,0.13),(34.8,0.18),(30.1,0),(26.2,0),(26.5,0.02),(6.9,-0.15),(6,-0.43),(6.4,-0.38),(7,-0.5),(7.5,-0.3),(26.8,-0.27),(27.3,-0.4),(25.8,-0.35),(26.5,-0.45),(30.3,-0.33),(34,-0.33),(25.4,-0.55),(26,-0.6),(26.3,-0.8),(27.8,-0.6),(29,-0.6),(28.7,-0.7),(28.5,-0.77),(29.2,-0.43),(29.5,-0.6),(6.7,-0.8),(7.2,-0.85),(7,-1.05),(7.3,-1.25),(7.6,-1.45),(8,-1.1),(8.4,-1.55),(8.8,-1.25),(9.3,-1.45),(9,-1.7),(8.9,-1.9),(9.3,-1.75),(10,-1.5),(10.3,-1.4),(11,-1.45),(25.2,-1),(24.7,-1.05),(24.1,-1.3),(24.3,-1.37),(24.8,-1.4),(25.4,-1.5),(26.3,-1.27),(26.9,-1.07),(27.9,-0.95),(28,-0.93),(29.4,-1.13),(29.8,-1),(30.1,-1.15),(30.6,-1.05),(30.5,-1.3),(32.6,-0.95),(23.8,-1.65),(22.2,-1.75),(21.8,-1.35),(21.1,-1.4),(20.2,-1.45),(19.2,-1.35),(18.2,-1.6),(16.5,-1.7),(15.8,-1.6),(15.1,-1.55),(14.6,-1.6),(14.2,-1.75),(17.1,-1.85),(13.8,-1.6),(11.6,-1.8),(12.1,-1.9),(12.6,-1.65),(13.8,-1.9),(7.6,-1.93),(10,-1.95),(10.4,-2.1),(10.7,-1.95),(11.2,-2.1),(12,-2.25),(12.5,-2.25),(12.8,-2),(13.9,-2.15),(14.1,-2.38),(14.4,-2.05),(15.4,-2.05),(15.8,-2.15),(16.7,-2.15),(17,-2),(17.8,-2.33),(19,-2.4),(19.4,-2.1),(19.9,-2.17),(21.4,-2.2),(21.7,-2.25),(23,-2.35),(23.2,-2.3),(24.1,-2),(27.6,-1.9),(26.4,-2.07),(26.8,-2.3),(29.8,-2.13),(30.2,-2.3),(30.7,-1.62),(31.8,-1.95),(8.4,-2.35),(8.8,-2.4),(9,-2.45),(10.7,-2.45),(12.7,-2.5),(15.8,-2.5),(7.9,-2.77),(8.4,-2.9),(8.9,-2.6),(8.9,-2.75),(14.9,-2.7),(15.4,-2.75),(14.5,-2.9),(18,-2.67),(19.4,-2.62),(19.8,-2.8),(20.2,-2.72),(24.5,-2.5),(26,-2.6),(26.9,-2.77),(33.3,-2.72),(11.8,-2.93),(9.4,-3.2),(10.1,-3.05),(10.2,-3.15),(14.7,-3.27),(15.8,-3.27),(16.5,-3.33),(21.1,-3.02),(22.9,-3.07),(28,-3.3),(28.4,-3.13),(8.7,-3.45),(11.8,-3.45),(11.8,-3.55),(9.8,-3.7),(15.7,-3.65),(18,-3.65),(29.2,-3.73),(32.6,-3.75),(11.8,-4),(12.6,-3.95),(11.8,-4.18),(12.2,-4.05),(14.3,-4.17),(14.7,-4.15),(10.2,-4.5),(9.8,-4.75)]
ses_m_core_y = [1.2,1.0,0.8,0.6,0.4,0.2,0.0,-0.2,-0.4,-0.6,-0.8,-1.0,-1.2]
ses_m_core_x = [[11.6,12.3,13,13.7,14.4,15.1,15.8,16.5,17.2,17.9,18.6,19.3,20],
    [10.6,11.3,12,12.7,13.4,14.1,14.8,15.5,16.2,16.9,17.6,18.3,19,19.7,20.4,21.1],
    [9.5,10.2,10.9,11.6,12.3,13,13.7,14.4,15.1,15.8,16.5,17.2,17.9,18.6,19.3,20,20.7,21.4,22.1],
    [8.5,9.2,9.9,10.6,11.3,12,12.7,13.4,14.1,14.8,15.5,16.2,16.9,17.6,18.3,19,19.7,20.4,21.1,21.8,22.5],
    [8.1,8.8,9.5,10.2,10.9,11.6,12.3,13,13.7,14.4,15.1,15.8,16.5,17.2,17.9,18.6,19.3,20,20.7,21.4,22.1,22.8,23.5],
    [7.8,8.5,9.2,9.9,10.6,11.3,12,12.7,13.4,14.1,14.8,15.5,16.2,16.9,17.6,18.3,19,19.7,20.4,21.1,21.8,22.5,23.2,23.9],
    [7.4,8.1,8.8,9.5,10.2,10.9,11.6,12.3,13,13.7,14.4,15.1,15.8,16.5,17.2,17.9,18.6,19.3,20,20.7,21.4,22.1,22.8,23.5,24.2,24.9],
    [7.8,8.5,9.2,9.9,10.6,11.3,12,12.7,13.4,14.1,14.8,15.5,16.2,16.9,17.6,18.3,19,19.7,20.4,21.1,21.8,22.5,23.2,23.9,24.6,25.3],
    [8.1,8.8,9.5,10.2,10.9,11.6,12.3,13,13.7,14.4,15.1,15.8,16.5,17.2,17.9,18.6,19.3,20,20.7,21.4,22.1,22.8,23.5,24.2],
    [8.5,9.2,9.9,10.6,11.3,12,12.7,13.4,14.1,14.8,15.5,16.2,16.9,17.6,18.3,19,19.7,20.4,21.1,21.8,22.5,23.2],
    [9.5,10.2,10.9,11.6,12.3,13,13.7,14.4,15.1,15.8,16.5,17.2,17.9,18.6,19.3,20,20.7,21.4,22.1],
    [10.6,11.3,12,12.7,13.4,14.1,14.8,15.5,16.2,16.9,17.6,18.3,19,19.7,20.4],
    [11.6,12.3,13,13.7,14.4,15.1,15.8,16.5,17.2,17.9]]

ses_h_pts = [(26.7,5.57),(30.3,4.25),(35.2,4.12),(8.7,3.82),(25.3,3.87),(13.1,3.5),(12.5,3.42),(19.5,3.44),(10.2,3.32),(15.4,3.32),(18,3.33),(3,3.22),(24.4,3.15),(12.5,3.12),(8.8,3.03),(9.3,2.92),(12.9,2.93),(20.8,2.98),(22,2.93),(22.6,2.85),(22.7,2.77),(23.8,2.95),(25.1,3.02),(30,2.98),(35.9,3.04),(33.4,2.82),(9.7,2.75),(10.6,2.85),(10.8,2.72),(11.6,2.85),(15.2,2.75),(7.6,2.68),(7.8,2.73),(18.6,2.68),(18.9,2.75),(23.8,2.7),(26.9,2.78),(27.2,2.83),(28,2.83),(28.8,2.77),(30.3,2.73),(8.2,2.45),(8.4,2.42),(6.6,2.37),(7.2,2.35),(12.4,2.35),(12.7,2.47),(13.9,2.43),(17.1,2.6),(23.8,2.4),(10.3,2.33),(10.8,2.32),(10.1,2.2),(14.3,2.2),(15.7,2.17),(14.1,2.1),(19.3,2.27),(20.7,2.22),(21.9,2.3),(25.9,2.3),(7.3,2),(8.4,2.02),(9.1,2.17),(9.3,1.95),(9.1,1.87),(13,2.07),(13.3,2.07),(17.2,2.08),(18.6,2.15),(27.1,2.1),(28.8,2.05),(11.2,1.98),(11.6,2),(14.7,2),(15.8,2),(17.4,1.95),(19.3,1.9),(19.9,1.88),(21.3,1.95),(21.7,1.85),(30.6,1.92),(10.3,1.9),(10.6,1.85),(8.9,1.6),(9.9,1.55),(10.5,1.67),(11.2,1.72),(12.7,1.78),(13.9,1.78),(15,1.78),(16.1,1.85),(16.9,1.77),(17.5,1.73),(20.6,1.65),(21.2,1.65),(22.1,1.65),(22.7,1.67),(25,1.78),(25.9,1.77),(26.5,1.67),(27,1.75),(28.8,1.65),(30,1.75),(31.1,1.75),(31.6,1.6),(31.9,1.6),(33.1,1.7),(38.3,1.68),(5.2,1.48),(5.5,1.43),(12.2,1.5),(13.1,1.5),(14.3,1.5),(16.4,1.5),(16.9,1.45),(18,1.43),(19.5,1.45),(20.2,1.45),(22.9,1.4),(23.7,1.4),(24.9,1.45),(25.5,1.38),(28.8,1.42),(30,1.38),(32.5,1.5),(8,1.2),(9.5,1.2),(10.1,1.2),(11.5,1.35),(12.6,1.2),(13.7,1.15),(21.4,1.12),(22.5,1.12),(23,1.05),(23.7,1.3),(25,1.2),(26,1.15),(26.5,1.15),(27.1,1.05),(30.2,1.15),(29.3,1),(32.9,1.03),(3.3,1),(4,0.92),(5.8,1),(6,0.92),(6.2,0.8),(8.7,0.9),(9,0.85),(9.9,0.95),(10.8,0.92),(22,0.98),(24.4,0.95),(25.3,1),(28.5,0.97),(30.3,0.92),(38.6,0.92),(4.5,0.7),(5.5,0.72),(5.9,0.72),(8,0.78),(9.2,0.73),(26.3,0.85),(27.5,0.7),(27.8,0.68),(29.7,0.68),(31.2,0.72),(33.3,0.65),(33.2,0.58),(35.6,0.77),(6.7,0.55),(7.3,0.5),(8.2,0.5),(9.1,0.45),(9.9,0.5),(27.4,0.4),(27.8,0.4),(29.4,0.4),(30.6,0.47),(26.2,0.4),(33.7,0.3),(6.6,0.33),(7.8,0.3),(29.4,0.25),(6.1,0.15),(7.2,0.15),(8.8,0.1),(9.4,0.15),(28,0.15),(27.9,0.08),(29.3,0.1),(30.3,0.12),(33.4,0.03),(5.1,-0.02),(5.5,-0.2),(6.5,-0.1),(8.3,-0.1),(4.5,-0.28),(6.3,-0.33),(7.2,-0.45),(8,-0.4),(9.9,-0.35),(28,-0.25),(28.6,-0.3),(28.7,-0.15),(29,-0.12),(29.7,-0.2),(26.9,-0.4),(28.4,-0.55),(28.8,-0.6),(29.3,-0.5),(30.6,-0.52),(30.6,-0.7),(5.9,-0.78),(8.2,-0.75),(8.8,-0.7),(9.4,-0.85),(7.2,-0.8),(6.6,-1.05),(7.7,-1.2),(5.4,-1.22),(8.4,-1),(9.1,-0.95),(10,-0.95),(11,-0.8),(27.5,-0.85),(27.8,-0.75),(32,-0.7),(27.1,-1),(27.8,-1.05),(27.3,-1.25),(26,-1.1),(26.3,-1.3),(25.4,-1.25),(24.8,-1.2),(7.5,-1.45),(7.2,-1.65),(7.7,-1.8),(7.7,-1.98),(8.4,-1.5),(8.8,-1.25),(8.8,-1.55),(9.3,-1.5),(9.1,-1.78),(9.9,-1.35),(10,-1.65),(10.8,-1.4),(11.2,-1.6),(11.6,-1.7),(11.7,-1.5),(12.3,-1.35),(12.7,-1.6),(13.2,-1.65),(13.8,-1.65),(14.3,-1.65),(14.8,-1.68),(15.8,-1.5),(16.5,-1.65),(17.7,-1.45),(17.9,-1.6),(19.3,-1.68),(20,-1.55),(21.6,-1.6),(23.8,-1.45),(24.4,-1.48),(25.9,-1.6),(26.2,-1.7),(26.6,-1.82),(27,-1.6),(27.3,-1.8),(27.8,-1.85),(28.2,-1.72),(28,-1.55),(28,-1.35),(29.6,-1.75),(32.9,-1.55),(39.8,-1.65),(7.2,-2.22),(7.5,-2.53),(8.2,-2.53),(8.5,-2.3),(9,-2.3),(9.4,-2.2),(9.5,-2),(9.3,-2.6),(9.9,-2.45),(10,-2.3),(10.5,-2.35),(10.6,-2),(11,-2.2),(11.3,-2.05),(11.2,-1.88),(11.5,-2.35),(11.5,-2.55),(12.1,-1.97),(12.9,-2.1),(13.9,-2.05),(14.2,-2.25),(14.8,-2.4),(15.1,-2.4),(15.5,-2.3),(16.4,-2.25),(17,-2.1),(17.4,-2.15),(18.6,-1.87),(19.3,-2),(21.4,-2),(22.9,-1.8),(25.9,-1.97),(24.8,-2.27),(25.5,-2.57),(27.4,-2.2),(29.5,-2),(30,-1.93),(31.4,-2.25),(32.2,-2.25),(10.6,-2.72),(14.2,-2.7),(15.2,-2.65),(21.4,-2.7),(23.6,-2.65),(23.4,-2.92),(19,-2.97),(30,-2.8),(10,-3.1),(12.3,-3.02),(24.5,-3.3),(10.8,-3.5),(11.9,-3.4),(13.1,-3.45),(14.2,-3.5),(14.4,-3.62),(11.7,-3.8),(29,-3.63),(29.1,-3.7),(34.8,-3.77),(9.3,-4.1),(10,-4.17),(13.2,-4.2),(15.4,-3.97),(18.8,-4.02),(17.4,-4.33),(35.6,-4.07),(32,-4.63)]
ses_h_core_y = [1.2,1.0,0.8,0.6,0.4,0.2,0.0,-0.2,-0.4,-0.6,-0.8,-1.0]
ses_h_core_x = [[13.7,14.4,15.1,15.8,16.5,17.2,17.9,18.6,19.3],
    [12,13.4,14.1,14.8,15.5,16.2,16.9,17.6,18.3,19,19.7],
    [12.3,13,13.7,14.4,15.1,15.8,16.5,17.2,17.9,18.6,19.3,20,21.4],
    [11.3,12,12.7,13.4,14.1,14.8,15.5,16.2,16.9,17.6,18.3,19,19.7,20.4,21.1,21.8,22.5,23.2],
    [10.9,11.6,12.3,13,13.7,14.4,15.1,15.8,16.5,17.2,17.9,18.6,19.3,20,20.7,21.4,22.1,22.8,23.5,24.2],
    [10.6,11.3,12,12.7,13.4,14.1,14.8,15.5,16.2,16.9,17.6,18.3,19,19.7,20.4,21.1,21.8,22.5,23.2,23.9,24.6],
    [10.9,11.6,12.3,13,13.7,14.4,15.1,15.8,16.5,17.2,17.9,18.6,19.3,20,20.7,21.4,22.1,22.8,23.5,24.2,24.9],
    [10.6,11.3,12,12.7,13.4,14.1,14.8,15.5,16.2,16.9,17.6,18.3,19,19.7,20.4,21.1,21.8,22.5,23.2,23.9,24.6,25.3],
    [11.6,12.3,13,13.7,14.4,15.1,15.8,16.5,17.2,17.9,18.6,19.3,20,20.7,21.4,22.1,22.8,23.5,24.2,24.9],
    [10.6,12.7,13.4,14.1,14.8,15.5,16.2,16.9,17.6,18.3,19,19.7,20.4,21.1,21.8,22.5,23.2,23.9,24.6,25.3],
    [13,13.7,14.4,15.1,15.8,16.5,17.2,17.9,18.6,19.3,20,20.7,21.4,22.1,22.8,23.5,24.2],
    [13.4,14.1,14.8,15.5,16.2,16.9,19.7,20.4,21.1,21.8,22.5,23.9,24.6]]

# limits and ticks per panel: x max, y min, y max
panel_pts = [sis_ck_pts, sis_l_pts, sis_m_pts, ses_ck_pts, ses_l_pts, ses_m_pts, ses_h_pts]
panel_core_y = [sis_ck_core_y, sis_l_core_y, sis_m_core_y, ses_ck_core_y, ses_l_core_y, ses_m_core_y, ses_h_core_y]
panel_core_x = [sis_ck_core_x, sis_l_core_x, sis_m_core_x, ses_ck_core_x, ses_l_core_x, ses_m_core_x, ses_h_core_x]
panel_xmax = [30, 30, 30, 40, 40, 40, 40]
panel_ymin = [-4, -4, -4, -6, -6, -6, -6]
panel_ymax = [4, 4, 4, 6, 6, 6, 6]

# panel boxes in pixels: left, right, top, bottom
W, H = 1892, 1533
lefts = [48, 702, 1331]
rights = [600, 1254, 1881]
tops = [8, 521, 1052]
bottoms = [429, 942, 1473]
boxes = [(0,0),(1,0),(2,0),(0,1),(1,1),(2,1),(0,2)]
ink = '#1a1a1a'


def draw_panel(ax, name, pts, core_y, core_x, xmax, ymin, ymax):
    pts = np.array(pts)
    xs = np.concatenate([pts[:, 0]] + [np.array(r) for r in core_x])
    ys = np.concatenate([pts[:, 1]] + [np.full(len(r), v) for r, v in zip(core_x, core_y)])
    ax.plot(xs, ys, 'o', color='black', ms=7.8, mew=0, label=name, zorder=3)
    ax.set_xlim(0, xmax)
    ax.set_ylim(ymin, ymax)
    ax.xaxis.set_major_locator(MultipleLocator(5))
    ax.xaxis.set_minor_locator(MultipleLocator(2.5))
    ax.yaxis.set_major_locator(MultipleLocator(2))
    ax.yaxis.set_minor_locator(MultipleLocator(1))
    ax.spines['top'].set_visible(False)
    ax.spines['right'].set_visible(False)
    for s in ['left', 'bottom']:
        ax.spines[s].set_color(ink)
        ax.spines[s].set_linewidth(0.9)
    ax.tick_params(which='major', direction='in', length=6, width=0.9, color=ink,
                   labelsize=14, labelcolor=ink)
    ax.tick_params(axis='x', which='major', pad=7)
    ax.tick_params(axis='y', which='major', pad=6)
    ax.tick_params(which='minor', direction='in', length=3, width=0.9, color=ink)
    ax.set_xlabel(x_label, fontsize=14.7, color=ink, labelpad=9)
    ax.set_ylabel(y_label, fontsize=14.7, color=ink)
    ax.yaxis.set_label_coords(-0.044, 0.5)
    ax.legend(loc='center left', bbox_to_anchor=(0.518, 0.966), frameon=False, numpoints=1,
              handlelength=1.2, handletextpad=0.83, borderpad=0, borderaxespad=0,
              prop={'size': 14.6}, labelcolor=ink)


fig = plt.figure(figsize=(W / 100, H / 100), dpi=100)
for i in range(len(panel_names)):
    col, row = boxes[i]
    rect = [lefts[col] / W, 1 - bottoms[row] / H, (rights[col] - lefts[col]) / W, (bottoms[row] - tops[row]) / H]
    ax = fig.add_axes(rect)
    draw_panel(ax, panel_names[i], panel_pts[i], panel_core_y[i], panel_core_x[i],
               panel_xmax[i], panel_ymin[i], panel_ymax[i])

fig.savefig('out.png', dpi=100)
